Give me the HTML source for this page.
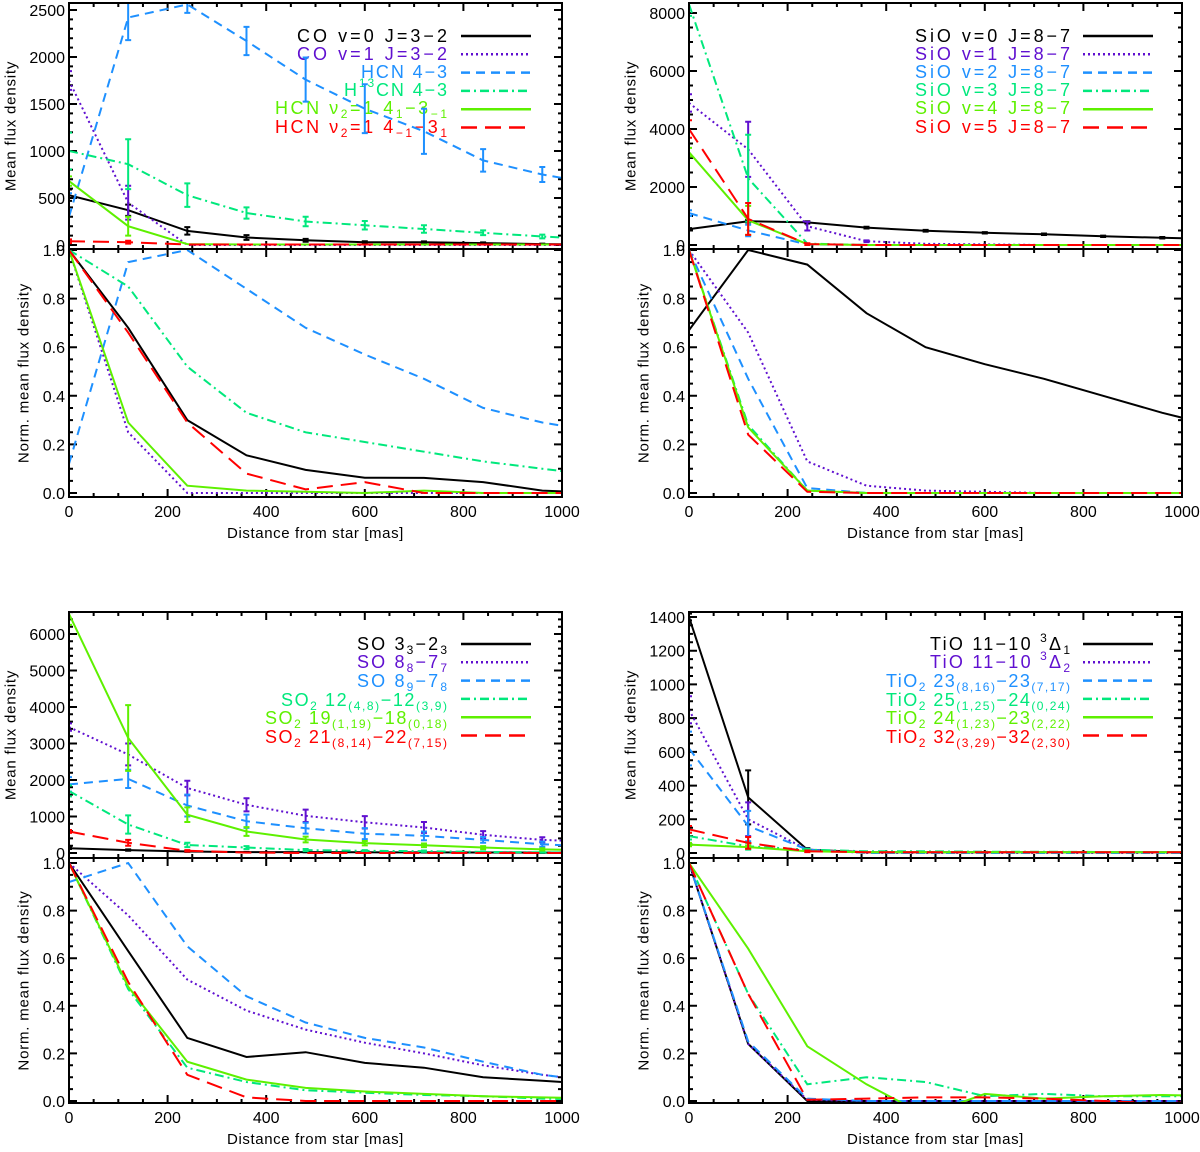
<!DOCTYPE html>
<html><head><meta charset="utf-8"><style>
html,body{margin:0;padding:0;background:#fff;}
svg{display:block;font-family:"Liberation Sans",sans-serif;}
</style></head><body>
<svg id="chart" width="1200" height="1152" viewBox="0 0 1200 1152" xmlns="http://www.w3.org/2000/svg">
<rect width="1200" height="1152" fill="#fff"/>
<g id="legends" font-size="18" text-anchor="end">
 <g>
  <text x="447" y="42" fill="#000" textLength="150" lengthAdjust="spacing">CO v=0 J=3−2</text>
  <text x="447" y="60" fill="#6010d0" textLength="150" lengthAdjust="spacing">CO v=1 J=3−2</text>
  <text x="447" y="78" fill="#1e90ff" textLength="86" lengthAdjust="spacing">HCN 4−3</text>
  <text x="447" y="96" fill="#00e87c" textLength="103" lengthAdjust="spacing">H<tspan dy="-9" font-size="12">13</tspan><tspan dy="9">CN 4−3</tspan></text>
  <text x="447" y="114" fill="#5ef000" textLength="172" lengthAdjust="spacing">HCN ν<tspan dy="4" font-size="12">2</tspan><tspan dy="-4">=1 4</tspan><tspan dy="4" font-size="12">1</tspan><tspan dy="-4">−3</tspan><tspan dy="4" font-size="12">−1</tspan></text>
  <text x="447" y="133" fill="#ff0000" textLength="172" lengthAdjust="spacing">HCN ν<tspan dy="4" font-size="12">2</tspan><tspan dy="-4">=1 4</tspan><tspan dy="4" font-size="12">−1</tspan><tspan dy="-4">−3</tspan><tspan dy="4" font-size="12">1</tspan></text>
 </g>
 <g>
  <text x="1070" y="42" fill="#000" textLength="155" lengthAdjust="spacing">SiO v=0 J=8−7</text>
  <text x="1070" y="60" fill="#6010d0" textLength="155" lengthAdjust="spacing">SiO v=1 J=8−7</text>
  <text x="1070" y="78" fill="#1e90ff" textLength="155" lengthAdjust="spacing">SiO v=2 J=8−7</text>
  <text x="1070" y="96" fill="#00e87c" textLength="155" lengthAdjust="spacing">SiO v=3 J=8−7</text>
  <text x="1070" y="114" fill="#5ef000" textLength="155" lengthAdjust="spacing">SiO v=4 J=8−7</text>
  <text x="1070" y="133" fill="#ff0000" textLength="155" lengthAdjust="spacing">SiO v=5 J=8−7</text>
 </g>
 <g>
  <text x="447" y="650" fill="#000" textLength="90" lengthAdjust="spacing">SO 3<tspan dy="4" font-size="12">3</tspan><tspan dy="-4">−2</tspan><tspan dy="4" font-size="12">3</tspan></text>
  <text x="447" y="668" fill="#6010d0" textLength="90" lengthAdjust="spacing">SO 8<tspan dy="4" font-size="12">8</tspan><tspan dy="-4">−7</tspan><tspan dy="4" font-size="12">7</tspan></text>
  <text x="447" y="687" fill="#1e90ff" textLength="90" lengthAdjust="spacing">SO 8<tspan dy="4" font-size="12">9</tspan><tspan dy="-4">−7</tspan><tspan dy="4" font-size="12">8</tspan></text>
  <text x="447" y="706" fill="#00e87c" textLength="166" lengthAdjust="spacing">SO<tspan dy="4" font-size="12">2</tspan><tspan dy="-4"> 12</tspan><tspan dy="4" font-size="12">(4,8)</tspan><tspan dy="-4">−12</tspan><tspan dy="4" font-size="12">(3,9)</tspan></text>
  <text x="447" y="724" fill="#5ef000" textLength="182" lengthAdjust="spacing">SO<tspan dy="4" font-size="12">2</tspan><tspan dy="-4"> 19</tspan><tspan dy="4" font-size="12">(1,19)</tspan><tspan dy="-4">−18</tspan><tspan dy="4" font-size="12">(0,18)</tspan></text>
  <text x="447" y="743" fill="#ff0000" textLength="182" lengthAdjust="spacing">SO<tspan dy="4" font-size="12">2</tspan><tspan dy="-4"> 21</tspan><tspan dy="4" font-size="12">(8,14)</tspan><tspan dy="-4">−22</tspan><tspan dy="4" font-size="12">(7,15)</tspan></text>
 </g>
 <g>
  <text x="1070" y="650" fill="#000" textLength="140" lengthAdjust="spacing">TiO 11−10 <tspan dy="-8" font-size="12">3</tspan><tspan dy="8">Δ</tspan><tspan dy="4" font-size="12">1</tspan></text>
  <text x="1070" y="668" fill="#6010d0" textLength="140" lengthAdjust="spacing">TiO 11−10 <tspan dy="-8" font-size="12">3</tspan><tspan dy="8">Δ</tspan><tspan dy="4" font-size="12">2</tspan></text>
  <text x="1070" y="687" fill="#1e90ff" textLength="184" lengthAdjust="spacing">TiO<tspan dy="4" font-size="12">2</tspan><tspan dy="-4"> 23</tspan><tspan dy="4" font-size="12">(8,16)</tspan><tspan dy="-4">−23</tspan><tspan dy="4" font-size="12">(7,17)</tspan></text>
  <text x="1070" y="706" fill="#00e87c" textLength="184" lengthAdjust="spacing">TiO<tspan dy="4" font-size="12">2</tspan><tspan dy="-4"> 25</tspan><tspan dy="4" font-size="12">(1,25)</tspan><tspan dy="-4">−24</tspan><tspan dy="4" font-size="12">(0,24)</tspan></text>
  <text x="1070" y="724" fill="#5ef000" textLength="184" lengthAdjust="spacing">TiO<tspan dy="4" font-size="12">2</tspan><tspan dy="-4"> 24</tspan><tspan dy="4" font-size="12">(1,23)</tspan><tspan dy="-4">−23</tspan><tspan dy="4" font-size="12">(2,22)</tspan></text>
  <text x="1070" y="743" fill="#ff0000" textLength="184" lengthAdjust="spacing">TiO<tspan dy="4" font-size="12">2</tspan><tspan dy="-4"> 32</tspan><tspan dy="4" font-size="12">(3,29)</tspan><tspan dy="-4">−32</tspan><tspan dy="4" font-size="12">(2,30)</tspan></text>
 </g>
</g>
</svg>
<script>
// ---- data ----
const xDist = [0,120,240,360,480,600,720,840,960,1080];
const xTickLabels = [0,200,400,600,800,1000];
const normTickLabels = ['0.0','0.2','0.4','0.6','0.8','1.0'];

// Panel 1: CO / HCN
const tlTicks = [0,500,1000,1500,2000,2500];
const tlFluxCO0 = [530,370,150,80,50,30,30,20,10,5];
const tlFluxCO1 = [1750,450,0,0,0,0,0,0,0,0];
const tlFluxHCN = [300,2420,2560,2170,1760,1450,1210,900,750,640];
const tlFluxH13CN = [1000,860,530,340,250,210,170,130,90,60];
const tlFluxHCNv2a = [680,200,10,5,5,5,5,5,5,5];
const tlFluxHCNv2b = [40,30,5,5,5,5,5,5,5,5];
const tlErrCO0 = [60,60,40,25,15,10,8,8,5];
const tlErrCO1 = [100,180,0,0,0,0,0,0,0];
const tlErrHCN = [250,240,90,150,235,260,240,120,80];
const tlErrH13CN = [195,265,125,60,50,45,40,25,20];
const tlErrHCNv2a = [50,100,0,0,0,0,0,0,0];
const tlErrHCNv2b = [20,15,0,0,0,0,0,0,0];
const tlNormCO0 = [1,0.68,0.30,0.155,0.095,0.063,0.062,0.045,0.01,0];
const tlNormCO1 = [1,0.25,0,0,0,0,0,0,0,0];
const tlNormHCN = [0.12,0.95,1.0,0.84,0.68,0.57,0.47,0.35,0.29,0.25];
const tlNormH13CN = [1,0.85,0.52,0.33,0.25,0.21,0.17,0.13,0.1,0.07];
const tlNormHCNv2a = [1,0.29,0.03,0.01,0.005,0.0,0.01,0,0,0];
const tlNormHCNv2b = [1,0.66,0.29,0.08,0.015,0.045,0.0,0,0,0];

// Panel 2: SiO
const trTicks = [0,2000,4000,6000,8000];
const trFluxV0 = [550,820,780,600,490,420,370,300,250,200];
const trFluxV1 = [4900,3300,650,130,40,20,0,0,0,0];
const trFluxV2 = [1100,500,20,0,0,0,0,0,0,0];
const trFluxV3 = [8300,2300,50,0,0,0,0,0,0,0];
const trFluxV4 = [3200,850,30,0,0,0,0,0,0,0];
const trFluxV5 = [4000,900,30,0,0,0,0,0,0,0];
const trErrV0 = [30,40,40,30,30,25,25,25,25];
const trErrV1 = [300,950,150,30,0,0,0,0,0];
const trErrV2 = [100,200,0,0,0,0,0,0,0];
const trErrV3 = [400,1500,0,0,0,0,0,0,0];
const trErrV4 = [150,500,0,0,0,0,0,0,0];
const trErrV5 = [300,550,30,0,0,0,0,0,0];
const trNormV0 = [0.67,1.0,0.94,0.74,0.60,0.53,0.47,0.40,0.33,0.27];
const trNormV1 = [1,0.66,0.13,0.03,0.01,0.005,0,0,0,0];
const trNormV2 = [1,0.47,0.02,0,0,0,0,0,0,0];
const trNormV3 = [1,0.28,0.01,0,0,0,0,0,0,0];
const trNormV4 = [1,0.27,0.01,0,0,0,0,0,0,0];
const trNormV5 = [1,0.24,0.005,0,0,0,0,0,0,0];

// Panel 3: SO / SO2
const blTicks = [0,1000,2000,3000,4000,5000,6000];
const blFluxSO33 = [130,80,40,25,25,20,17,13,10,8];
const blFluxSO88 = [3450,2700,1780,1320,1020,840,700,500,360,300];
const blFluxSO89 = [1880,2030,1300,870,680,530,470,360,240,160];
const blFluxSO212 = [1700,780,220,150,80,60,50,30,20,10];
const blFluxSO219 = [6550,3150,1050,590,370,270,210,150,100,70];
const blFluxSO221 = [590,280,60,10,0,0,0,0,0,0];
const blErrSO33 = [20,20,10,5,5,5,5,5,5];
const blErrSO88 = [100,300,200,180,170,170,150,100,70];
const blErrSO89 = [200,250,300,180,150,150,120,80,70];
const blErrSO212 = [150,250,60,40,30,20,20,15,10];
const blErrSO219 = [300,900,200,120,80,60,50,40,30];
const blErrSO221 = [40,80,20,0,0,0,0,0,0];
const blNormSO33 = [1,0.63,0.265,0.185,0.205,0.16,0.14,0.10,0.085,0.07];
const blNormSO88 = [1,0.78,0.51,0.38,0.30,0.245,0.20,0.15,0.11,0.08];
const blNormSO89 = [0.92,1.0,0.65,0.44,0.33,0.265,0.225,0.165,0.11,0.08];
const blNormSO212 = [1,0.47,0.14,0.08,0.045,0.035,0.025,0.02,0.01,0.005];
const blNormSO219 = [1,0.48,0.165,0.09,0.055,0.04,0.03,0.02,0.015,0.01];
const blNormSO221 = [1,0.5,0.11,0.015,0,0,0,0,0,0];

// Panel 4: TiO / TiO2
const brTicks = [0,200,400,600,800,1000,1200,1400];
const brFluxD1 = [1400,330,20,5,5,5,5,5,5,5];
const brFluxD2 = [850,200,20,0,0,0,0,0,0,0];
const brFlux23 = [620,160,20,0,0,0,0,0,0,0];
const brFlux25 = [100,40,20,10,10,8,8,6,5,5];
const brFlux24 = [50,35,10,5,5,5,5,5,5,5];
const brFlux32 = [140,60,10,5,5,5,5,5,5,5];
const brErrD1 = [20,160,10,0,0,0,0,0,0];
const brErrD2 = [80,100,5,0,0,0,0,0,0];
const brErr23 = [100,90,5,0,0,0,0,0,0];
const brErr25 = [20,20,5,0,0,0,0,0,0];
const brErr24 = [10,10,0,0,0,0,0,0,0];
const brErr32 = [20,35,5,0,0,0,0,0,0];
const brNormD1 = [1,0.24,0.0,0,0,0,0,0,0,0];
const brNormD2 = [1,0.24,0.005,0,0,0,0,0,0,0];
const brNorm23 = [1,0.25,0.01,0,0,0,0,0,0,0];
const brNorm25 = [1,0.45,0.07,0.10,0.08,0.02,0.03,0.02,0.02,0.02];
const brNorm24 = [1,0.64,0.23,0.07,-0.06,0.03,0.01,0.02,0.025,0.02];
const brNorm32 = [1,0.45,0.005,0.01,0.015,0.015,0.01,0.0,-0.01,0];

// ---- rendering ----
const NS = 'http://www.w3.org/2000/svg';
const svg = document.getElementById('chart');
function mk(tag, parent) { const e = document.createElementNS(NS, tag); parent.appendChild(e); return e; }
function at(e, o) { for (const k in o) e.setAttribute(k, o[k]); return e; }

const styles = [
  {c:'#000000', d:'none'},
  {c:'#6010d0', d:'2,3'},
  {c:'#1e90ff', d:'9,6'},
  {c:'#00e87c', d:'9,4,2,4'},
  {c:'#5ef000', d:'none'},
  {c:'#ff0000', d:'16,8'}
];

const panels = [
 {key:'co-hcn', x0:69, x1:562, top:3, mid:249, bot:497, uZero:245, uRef:10, uRefVal:2500, lOne:250, lZero:493,
  ticks:tlTicks, uMinor:100, lx:11, nx:24, legX:461,
  flux:[tlFluxCO0,tlFluxCO1,tlFluxHCN,tlFluxH13CN,tlFluxHCNv2a,tlFluxHCNv2b],
  err:[tlErrCO0,tlErrCO1,tlErrHCN,tlErrH13CN,tlErrHCNv2a,tlErrHCNv2b],
  norm:[tlNormCO0,tlNormCO1,tlNormHCN,tlNormH13CN,tlNormHCNv2a,tlNormHCNv2b], legY:36},
 {key:'sio', x0:689, x1:1182, top:3, mid:249, bot:497, uZero:245, uRef:13, uRefVal:8000, lOne:250, lZero:493,
  ticks:trTicks, uMinor:500, lx:631, nx:644, legX:1083,
  flux:[trFluxV0,trFluxV1,trFluxV2,trFluxV3,trFluxV4,trFluxV5],
  err:[trErrV0,trErrV1,trErrV2,trErrV3,trErrV4,trErrV5],
  norm:[trNormV0,trNormV1,trNormV2,trNormV3,trNormV4,trNormV5], legY:36},
 {key:'so', x0:69, x1:562, top:612, mid:858, bot:1103, uZero:853, uRef:634, uRefVal:6000, lOne:863, lZero:1101,
  ticks:blTicks, uMinor:200, lx:11, nx:24, legX:461,
  flux:[blFluxSO33,blFluxSO88,blFluxSO89,blFluxSO212,blFluxSO219,blFluxSO221],
  err:[blErrSO33,blErrSO88,blErrSO89,blErrSO212,blErrSO219,blErrSO221],
  norm:[blNormSO33,blNormSO88,blNormSO89,blNormSO212,blNormSO219,blNormSO221], legY:644},
 {key:'tio', x0:689, x1:1182, top:612, mid:858, bot:1103, uZero:853, uRef:617, uRefVal:1400, lOne:863, lZero:1101,
  ticks:brTicks, uMinor:50, lx:631, nx:644, legX:1083,
  flux:[brFluxD1,brFluxD2,brFlux23,brFlux25,brFlux24,brFlux32],
  err:[brErrD1,brErrD2,brErr23,brErr25,brErr24,brErr32],
  norm:[brNormD1,brNormD2,brNorm23,brNorm25,brNorm24,brNorm32], legY:644}
];

const defs = mk('defs', svg);

panels.forEach((p, pi) => {
  const g = mk('g', svg);
  
  
  const xS = v => p.x0 + (v / 1000) * (p.x1 - p.x0);
  const yU = v => p.uZero + (v / p.uRefVal) * (p.uRef - p.uZero);
  const yL = v => p.lZero + v * (p.lOne - p.lZero);
  const umax = p.uRefVal + (p.top - p.uRef) * p.uRefVal / (p.uRef - p.uZero);

  const cu = at(mk('clipPath', defs), {id:'cu' + pi});
  at(mk('rect', cu), {x:p.x0, y:p.top, width:p.x1 - p.x0, height:p.mid - p.top});
  const cl = at(mk('clipPath', defs), {id:'cl' + pi});
  at(mk('rect', cl), {x:p.x0, y:p.mid, width:p.x1 - p.x0, height:p.bot - p.mid});

  const tk = at(mk('path', g), {stroke:'#000', 'stroke-width':2, fill:'none'});
  
  
  let d = '';
  for (let v = 0; v <= 1000; v += 50) {
    const x = xS(v), L = (v % 200 === 0) ? 8 : 4;
    [[p.bot, -1], [p.mid, -1], [p.mid, 1], [p.top, 1]].forEach(([y, s]) => { d += `M${x},${y}v${s * L}`; });
  }
  for (let v = 0; v <= umax; v += p.uMinor) {
    const y = yU(v), maj = p.ticks.includes(v), L = maj ? 8 : 4;
    if (y < p.top) continue;
    d += `M${p.x0},${y}h${L}M${p.x1},${y}h${-L}`;
  }
  for (let k = 0; k <= 20; k++) {
    const y = yL(k * 0.05), L = (k % 4 === 0) ? 8 : 4;
    d += `M${p.x0},${y}h${L}M${p.x1},${y}h${-L}`;
  }
  tk.setAttribute('d', d);

  [0, 1].forEach(part => {
    const sg = at(mk('g', g), {'clip-path': `url(#${part ? 'cl' : 'cu'}${pi})`});
    
    
    const sets = part ? p.norm : p.flux;
    const yf = part ? yL : yU;
    sets.forEach((arr, si) => {
      const st = styles[si];
      const pts = arr.map((v, i) => xS(xDist[i]).toFixed(1) + ',' + yf(v).toFixed(1)).join(' ');
      const pl = at(mk('polyline', sg), {points:pts, fill:'none', stroke:st.c, 'stroke-width':2, 'stroke-dasharray':st.d});
      
      
      if (!part) {
        const e = p.err[si];
        let ed = '';
        e.forEach((h, i) => {
          if (!h) return;
          const x = xS(xDist[i]), y1 = yU(arr[i] - h), y2 = yU(arr[i] + h);
          ed += `M${x},${y1}V${y2}M${x - 3},${y1}h6M${x - 3},${y2}h6`;
        });
        if (ed) {
          const ep = at(mk('path', sg), {d:ed, stroke:st.c, 'stroke-width':2, fill:'none'});
          
          
        }
      }
    });
  });

  const fu = at(mk('rect', g), {x:p.x0, y:p.top, width:p.x1 - p.x0, height:p.mid - p.top, fill:'none', stroke:'#000', 'stroke-width':2});
  
  
  const fl = at(mk('rect', g), {x:p.x0, y:p.mid, width:p.x1 - p.x0, height:p.bot - p.mid, fill:'none', stroke:'#000', 'stroke-width':2});
  
  

  p.ticks.forEach(v => {
    const t = at(mk('text', g), {x:p.x0 - 4, y:yU(v) + 6, 'font-size':16, 'text-anchor':'end', fill:'#000'});
    t.textContent = String(v);
    
    
  });
  normTickLabels.forEach((s, k) => {
    const t = at(mk('text', g), {x:p.x0 - 4, y:yL(k * 0.2) + 6, 'font-size':16, 'text-anchor':'end', fill:'#000'});
    t.textContent = s;
    
    
  });
  xTickLabels.forEach(v => {
    const t = at(mk('text', g), {x:xS(v), y:p.bot + 20, 'font-size':16, 'text-anchor':'middle', fill:'#000'});
    t.textContent = String(v);
    
    
  });
  const xt = at(mk('text', g), {x:(p.x0 + p.x1) / 2, y:p.bot + 41, 'font-size':15, 'text-anchor':'middle', fill:'#000', 'letter-spacing':'0.6'});
  xt.textContent = 'Distance from star [mas]';
  
  
  const cyU = (p.top + p.mid) / 2, cyL = (p.mid + p.bot) / 2;
  const ya = at(mk('text', g), {x:p.lx, y:cyU, 'font-size':15, 'text-anchor':'middle', fill:'#000', 'letter-spacing':'0.8', transform:`rotate(-90 ${p.lx} ${cyU})`, 'dominant-baseline':'central'});
  ya.textContent = 'Mean flux density';
  
  
  const yb = at(mk('text', g), {x:p.nx, y:cyL, 'font-size':15, 'text-anchor':'middle', fill:'#000', 'letter-spacing':'0.8', transform:`rotate(-90 ${p.nx} ${cyL})`, 'dominant-baseline':'central'});
  yb.textContent = 'Norm. mean flux density';
  
  

  styles.forEach((st, si) => {
    const y = p.legY + si * 18.3;
    const ln = at(mk('line', g), {x1:p.legX, x2:p.legX + 70, y1:y, y2:y, stroke:st.c, 'stroke-width':2.5, 'stroke-dasharray':st.d});
    
    
  });
});
</script>
</body></html>
